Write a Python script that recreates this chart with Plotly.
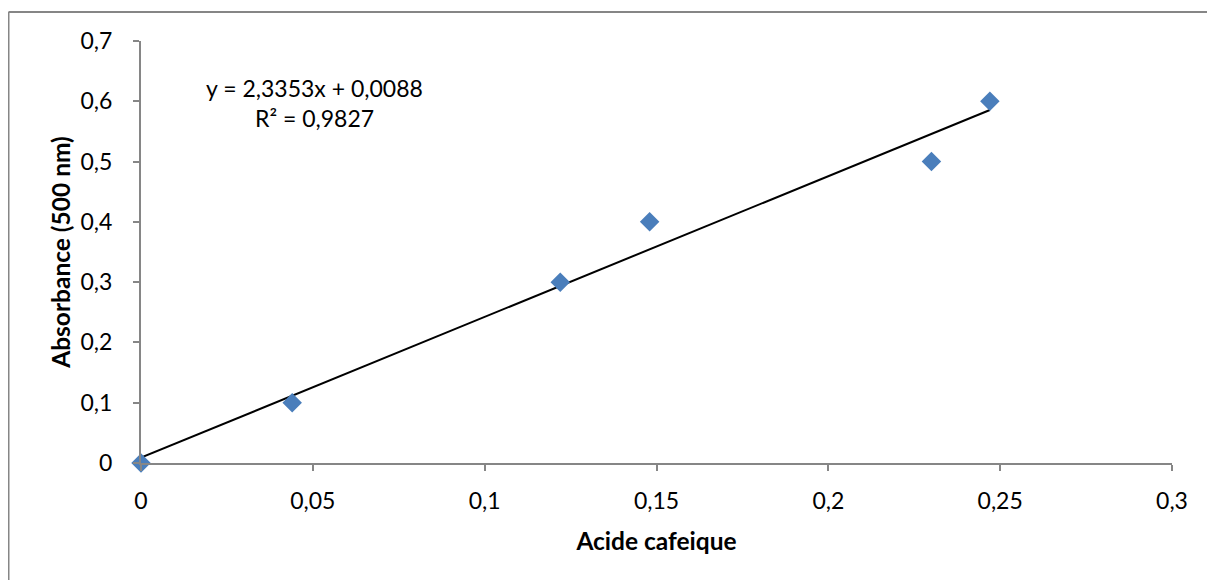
import plotly.graph_objects as go

# Data
acide_cafeique = [0, 0.044, 0.122, 0.148, 0.23, 0.247]
absorbance = [0, 0.1, 0.3, 0.4, 0.5, 0.6]
slope = 2.3353
intercept = 0.0088
r2 = 0.9827
x_ticks = [0, 0.05, 0.1, 0.15, 0.2, 0.25, 0.3]
x_tick_labels = ["0", "0,05", "0,1", "0,15", "0,2", "0,25", "0,3"]
y_ticks = [0, 0.1, 0.2, 0.3, 0.4, 0.5, 0.6, 0.7]
y_tick_labels = ["0", "0,1", "0,2", "0,3", "0,4", "0,5", "0,6", "0,7"]

trend_x = [min(acide_cafeique), max(acide_cafeique)]
trend_y = [slope * v + intercept for v in trend_x]

FONT = "Lato"
axis_col = "#868686"
FS = 23

fig = go.Figure()
fig.add_trace(go.Scatter(
    x=trend_x, y=trend_y, mode="lines",
    line=dict(color="black", width=2), showlegend=False, hoverinfo="skip"))
fig.add_trace(go.Scatter(
    x=acide_cafeique, y=absorbance, mode="markers",
    marker=dict(symbol="diamond", size=15, color="#4A7EBB",
                line=dict(width=0)),
    showlegend=False, cliponaxis=False))

fig.add_annotation(x=0.0506, y=0.622, xref="x", yref="y",
                   text="y = 2,3353x + 0,0088", showarrow=False,
                   font=dict(family=FONT, size=FS, color="black"))
fig.add_annotation(x=0.0506, y=0.572, xref="x", yref="y",
                   text="R² = 0,9827", showarrow=False,
                   font=dict(family=FONT, size=FS, color="black"))

# page body has an 8px margin, so the figure is offset by 8px
OFF = 8
W, H = 1215 - 2 * OFF, 580 - OFF
ml, mt = 141 - OFF, 41 - OFF
pw, ph = 1031, 422
mr, mb = W - ml - pw, H - mt - ph
bx = (8.5 - OFF - ml) / pw
by = (mt + ph - (12 - OFF)) / ph
# outer chart border: only left and top edges are visible in the frame
fig.add_shape(type="line", xref="paper", yref="paper",
              x0=bx, x1=bx, y0=by, y1=-(H + 30 - mt - ph) / ph,
              line=dict(color=axis_col, width=2), layer="below")
fig.add_shape(type="line", xref="paper", yref="paper",
              x0=bx, x1=(W + 30 - ml) / pw, y0=by, y1=by,
              line=dict(color=axis_col, width=2), layer="below")

fig.update_layout(
    width=W, height=H,
    margin=dict(l=ml, r=mr, t=mt, b=mb, pad=0),
    paper_bgcolor="white", plot_bgcolor="white",
    font=dict(family=FONT, size=FS, color="black"),
    xaxis=dict(range=[0, 0.3], tickvals=x_ticks, ticktext=x_tick_labels,
               showgrid=False, zeroline=False, showline=True,
               linecolor=axis_col, linewidth=2, ticks="outside",
               ticklen=6, tickwidth=2, tickcolor=axis_col,
               ticklabelstandoff=10,
               title=dict(text="<b>Acide cafeique</b>",
                          font=dict(family=FONT, size=24.5), standoff=20)),
    yaxis=dict(range=[0, 0.7], tickvals=y_ticks, ticktext=y_tick_labels,
               showgrid=False, zeroline=False, showline=True,
               linecolor=axis_col, linewidth=2, ticks="outside",
               ticklen=6, tickwidth=2, tickcolor=axis_col,
               ticklabelstandoff=16,
               title=dict(text="<b>Absorbance (500 nm)</b>",
                          font=dict(family=FONT, size=24.5), standoff=3)),
)

fig.write_html("out.html")
